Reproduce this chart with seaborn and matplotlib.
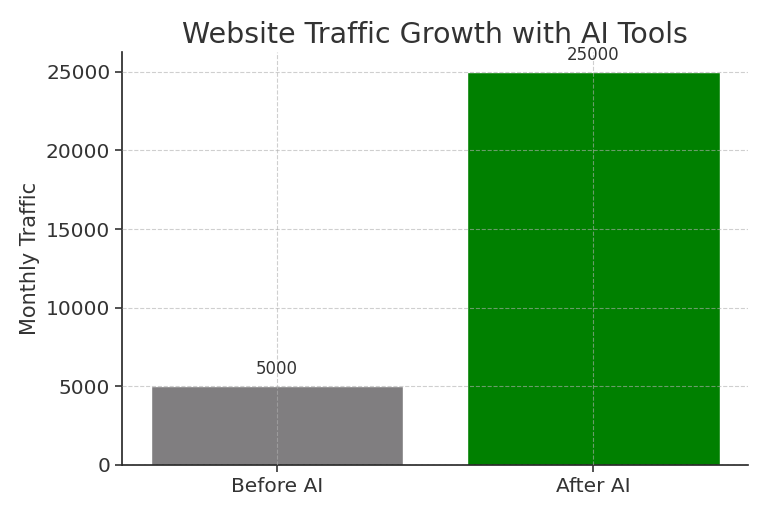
import matplotlib
matplotlib.use("Agg")
import matplotlib.pyplot as plt
import seaborn as sns
import pandas as pd

stages = ["Before AI", "After AI"]
traffic = [5000, 25000]
bar_colors = ["#807e80", "green"]

df = pd.DataFrame({"stage": stages, "traffic": traffic})

sns.set_style("white")
plt.rcParams["font.family"] = ["DejaVu Sans"]
plt.rcParams["text.color"] = "#333333"
plt.rcParams["axes.labelcolor"] = "#333333"
plt.rcParams["xtick.color"] = "#333333"
plt.rcParams["ytick.color"] = "#333333"

fig, ax = plt.subplots(figsize=(7.68, 5.12), dpi=100)
fig.subplots_adjust(left=0.159, right=0.974, bottom=0.092, top=0.898)

sns.barplot(data=df, x="stage", y="traffic", hue="stage", palette=bar_colors,
            legend=False, width=0.8, saturation=1, ax=ax)

for i, v in enumerate(traffic):
    ax.text(i, v + 500, str(v), ha="center", va="bottom", fontsize=12, color="#333333")

ax.set_title("Website Traffic Growth with AI Tools", fontsize=20.5, color="#333333", pad=7)
ax.set_xlabel("")
ax.set_ylabel("Monthly Traffic", fontsize=15)
ax.tick_params(axis="both", labelsize=14.5, length=5, width=1.2, left=True, bottom=True)
ax.set_xlim(-0.49, 1.49)
ax.set_ylim(0, 26250)

ax.grid(True, linestyle="--", color="#b0b0b0", alpha=0.6, linewidth=0.8)
ax.set_axisbelow(False)
sns.despine(ax=ax)
for s in ["left", "bottom"]:
    ax.spines[s].set_color("#222222")
    ax.spines[s].set_linewidth(1.2)

plt.savefig("out.png", dpi=100)
